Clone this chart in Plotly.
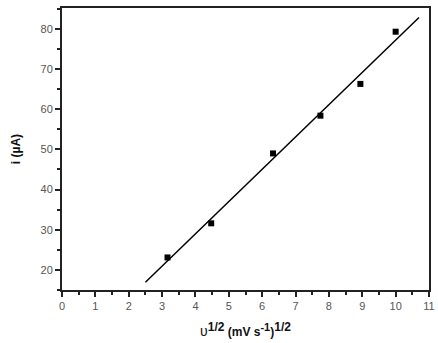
import numpy as np
import plotly.graph_objects as go

# data
scan_rate_sqrt = [3.162, 4.472, 6.325, 7.746, 8.944, 10.0]
current_uA = [23.1, 31.6, 49.0, 58.4, 66.3, 79.3]
fit_range = [2.5, 10.7]

slope, intercept = np.polyfit(scan_rate_sqrt, current_uA, 1)
fit_x = np.array(fit_range)
fit_y = slope * fit_x + intercept

fig = go.Figure()
fig.add_trace(go.Scatter(x=fit_x, y=fit_y, mode="lines",
                         line=dict(color="black", width=1.5), showlegend=False))
fig.add_trace(go.Scatter(x=scan_rate_sqrt, y=current_uA, mode="markers",
                         marker=dict(symbol="square", size=6, color="black"),
                         showlegend=False))

tickfont = dict(family="Arial, Liberation Sans, sans-serif", size=11, color="#555555")
xtitle = ("<span style='font-size:14px'>υ</span>"
          "<b><sup><span style='font-size:12px'>1/2</span></sup> (mV s"
          "<sup><span style='font-size:11px'>-1</span></sup>)"
          "<sup><span style='font-size:12px'>1/2</span></sup></b>")
fig.update_layout(
    width=438, height=343,
    margin=dict(l=62, r=9, t=8, b=53),
    plot_bgcolor="white", paper_bgcolor="white",
    xaxis=dict(range=[0, 11], tickmode="linear", tick0=0, dtick=1,
               ticks="outside", ticklen=5, tickwidth=1.5, tickcolor="#222",
               minor=dict(dtick=0.5, ticks="outside", ticklen=3, tickwidth=1.5, tickcolor="#222"),
               showline=True, linecolor="#222", linewidth=2, mirror=True,
               showgrid=False, zeroline=False, tickfont=tickfont, automargin=False,
               title=dict(text=xtitle,
                          font=dict(family="Arial, Liberation Sans, sans-serif", size=12, color="#111"),
                          standoff=16)),
    yaxis=dict(range=[15, 85.2], tickmode="linear", tick0=20, dtick=10,
               ticks="outside", ticklen=5, tickwidth=1.5, tickcolor="#222",
               minor=dict(dtick=5, ticks="outside", ticklen=3, tickwidth=1.5, tickcolor="#222"),
               showline=True, linecolor="#222", linewidth=2, mirror=True,
               showgrid=False, zeroline=False, tickfont=tickfont, automargin=False,
               title=dict(text="<b>i (µA)</b>",
                          font=dict(family="Arial, Liberation Sans, sans-serif", size=12, color="#111"),
                          standoff=17)),
)
fig.write_html("out.html")
